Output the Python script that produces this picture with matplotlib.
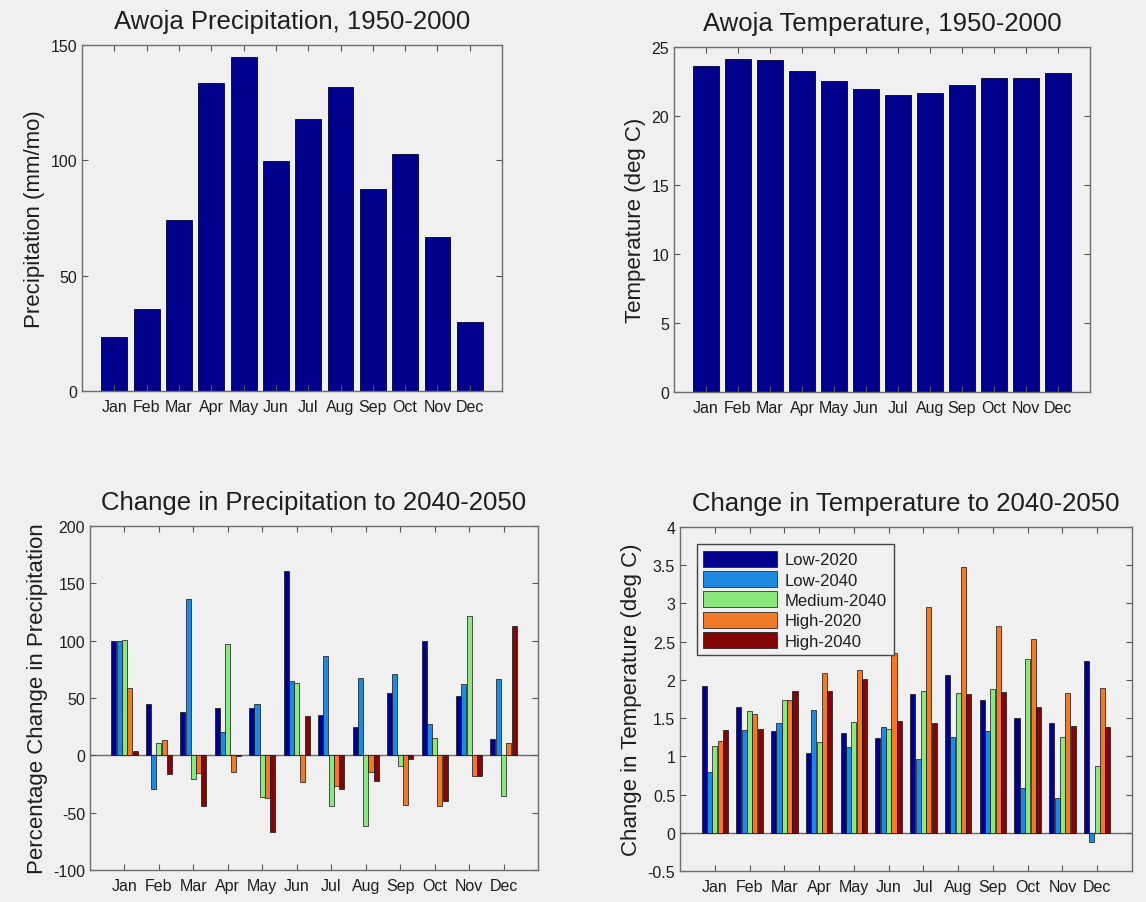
import numpy as np
import matplotlib
matplotlib.use('Agg')
import matplotlib.pyplot as plt
from matplotlib.ticker import FuncFormatter

months = ['Jan', 'Feb', 'Mar', 'Apr', 'May', 'Jun',
          'Jul', 'Aug', 'Sep', 'Oct', 'Nov', 'Dec']

# historical climate, 1950-2000
precip_hist = [23.4, 35.4, 74, 133.6, 144.9, 99.9, 118, 131.7, 87.7, 102.7, 66.8, 30]
temp_hist = [23.6, 24.1, 24.08, 23.26, 22.53, 21.98, 21.49, 21.64, 22.27, 22.73, 22.75, 23.11]

scenarios = ['Low-2020', 'Low-2040', 'Medium-2040', 'High-2020', 'High-2040']

# percentage change in precipitation to 2040-2050
dp_low2020 = [100, 45, 38, 41, 41, 161, 35, 24.5, 54.8, 100, 51.6, 14.6]
dp_low2040 = [100, -29.4, 136, 20, 44.6, 65, 86.5, 67.6, 71, 27, 61.8, 67]
dp_med2040 = [101, 11, -20.6, 97, -35.9, 63.5, -44, -62, -9, 15.5, 121.5, -35.3]
dp_high2020 = [58.9, 13, -15, -14.7, -37.6, -23, -26.5, -14.7, -43.5, -44, -18, 10.8]
dp_high2040 = [4, -16.2, -44, -1, -67, 34, -29.4, -22, -3, -39.7, -18, 112.8]

# change in temperature to 2040-2050 (deg C)
dt_low2020 = [1.92, 1.64, 1.33, 1.04, 1.31, 1.24, 1.81, 2.07, 1.74, 1.50, 1.44, 2.25]
dt_low2040 = [0.80, 1.35, 1.43, 1.61, 1.12, 1.39, 0.97, 1.25, 1.33, 0.59, 0.46, -0.12]
dt_med2040 = [1.14, 1.59, 1.74, 1.19, 1.45, 1.36, 1.86, 1.83, 1.88, 2.27, 1.25, 0.87]
dt_high2020 = [1.20, 1.56, 1.74, 2.09, 2.13, 2.35, 2.95, 3.48, 2.70, 2.54, 1.83, 1.90]
dt_high2040 = [1.35, 1.36, 1.85, 1.85, 2.01, 1.46, 1.44, 1.82, 1.84, 1.65, 1.40, 1.39]

bg = '#f0f0f0'
colors = ['#00008c', '#1f88e0', '#8ae87e', '#f07a28', '#820606']
txt = '#1e1e1e'

plt.rcParams['font.family'] = ['Liberation Sans', 'DejaVu Sans']
plt.rcParams['axes.unicode_minus'] = False
plt.rcParams['text.color'] = txt
plt.rcParams['axes.labelcolor'] = txt
plt.rcParams['xtick.color'] = '#555555'
plt.rcParams['ytick.color'] = '#555555'
plt.rcParams['xtick.labelcolor'] = txt
plt.rcParams['ytick.labelcolor'] = txt

fig = plt.figure(figsize=(11.46, 9.03), dpi=100, facecolor=bg)
ax1 = fig.add_axes([0.0716, 0.5659, 0.3665, 0.3832])
ax2 = fig.add_axes([0.5881, 0.5648, 0.3630, 0.3820])
ax3 = fig.add_axes([0.0785, 0.0354, 0.3910, 0.3810])
ax4 = fig.add_axes([0.5934, 0.0343, 0.3944, 0.3810])

x = np.arange(1, 13)


def style(ax):
    ax.set_facecolor(bg)
    for s in ax.spines.values():
        s.set_color('#6e6e6e')
        s.set_linewidth(1.0)
    ax.tick_params(direction='in', top=True, right=True, length=4,
                   width=0.8, labelsize=11.5)
    ax.set_xlim(0, 13)
    ax.set_xticks(x)
    ax.set_xticklabels(months)
    ax.tick_params(axis='x', pad=6)


num = FuncFormatter(lambda v, p: ('%g' % v))

# top-left: precipitation
ax1.bar(x, precip_hist, width=0.8, color=colors[0], edgecolor='#000033', linewidth=0.6)
style(ax1)
ax1.set_ylim(0, 150)
ax1.set_yticks([0, 50, 100, 150])
ax1.set_ylabel('Precipitation (mm/mo)', fontsize=16)
ax1.set_title('Awoja Precipitation, 1950-2000', fontsize=18.5, pad=12)

# top-right: temperature
ax2.bar(x, temp_hist, width=0.8, color=colors[0], edgecolor='#000033', linewidth=0.6)
style(ax2)
ax2.set_ylim(0, 25)
ax2.set_yticks([0, 5, 10, 15, 20, 25])
ax2.set_ylabel('Temperature (deg C)', fontsize=16)
ax2.set_title('Awoja Temperature, 1950-2000', fontsize=18.5, pad=12)

# grouped bars
nb = len(scenarios)
slot = min(0.8, nb / (nb + 1.5)) / nb
offs = (np.arange(nb) - (nb - 1) / 2) * slot

dp = [dp_low2020, dp_low2040, dp_med2040, dp_high2020, dp_high2040]
dt = [dt_low2020, dt_low2040, dt_med2040, dt_high2020, dt_high2040]

for i in range(nb):
    ax3.bar(x + offs[i], dp[i], width=slot * 0.95, color=colors[i],
            edgecolor='#111111', linewidth=0.5, label=scenarios[i])
    ax4.bar(x + offs[i], dt[i], width=slot * 0.95, color=colors[i],
            edgecolor='#111111', linewidth=0.5, label=scenarios[i])

style(ax3)
ax3.axhline(0, color='#6e6e6e', linewidth=1.0, zorder=0.5)
ax3.set_ylim(-100, 200)
ax3.set_yticks(np.arange(-100, 201, 50))
ax3.set_ylabel('Percentage Change in Precipitation', fontsize=16)
ax3.set_title('Change in Precipitation to 2040-2050', fontsize=18.5, pad=12)

style(ax4)
ax4.axhline(0, color='#6e6e6e', linewidth=1.0, zorder=0.5)
ax4.set_ylim(-0.5, 4)
ax4.set_yticks(np.arange(-0.5, 4.01, 0.5))
ax4.yaxis.set_major_formatter(num)
ax4.set_ylabel('Change in Temperature (deg C)', fontsize=16)
ax4.set_title('Change in Temperature to 2040-2050', fontsize=18.5, pad=12)
leg = ax4.legend(loc='upper left', fontsize=12, handlelength=4.4, handleheight=1.1,
                 labelspacing=0.22, borderpad=0.4, handletextpad=0.5,
                 fancybox=False, framealpha=1, facecolor=bg, edgecolor='#444444',
                 bbox_to_anchor=(0.018, 0.975))
leg.get_frame().set_linewidth(1.0)

plt.savefig('out.png', dpi=100, facecolor=bg)
